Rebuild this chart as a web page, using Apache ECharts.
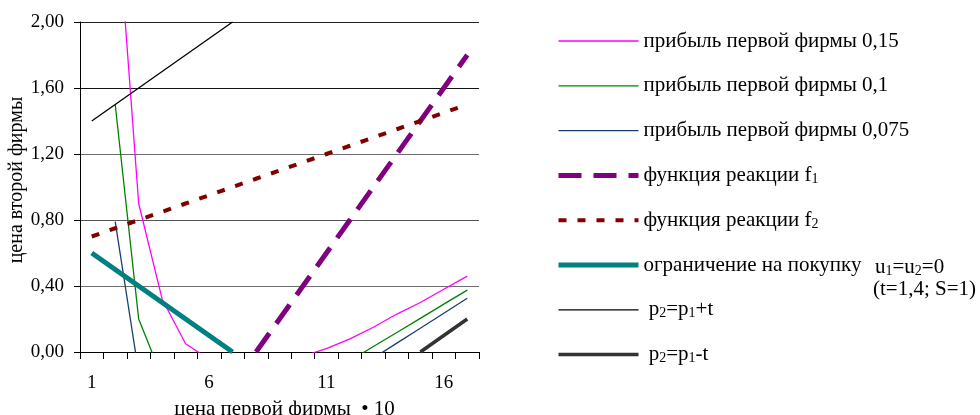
<!DOCTYPE html>
<html>
<head>
<meta charset="utf-8">
<script src="https://cdn.jsdelivr.net/npm/echarts@6/dist/echarts.min.js"></script>
<style>
  html, body { margin: 0; padding: 0; background: #fff; }
  #chart { width: 980px; height: 415px; }
</style>
</head>
<body>
<div id="chart"></div>
<script>
// Price of the first firm (x10), category axis
const categories = ['1','2','3','4','5','6','7','8','9','10','11','12','13','14','15','16','17'];

// Isoprofit curves of the first firm (levels 0.15, 0.1, 0.075)
const profit015  = [null, 2.82, 0.90, 0.32, 0.05, -0.044, null, null, null, -0.025, 0.02, 0.08, 0.15, 0.23, 0.30, 0.38, 0.46];
const profit010  = [null, 1.50, 0.20, -0.155, null, null, null, null, null, null, null, -0.053, 0.033, 0.118, 0.204, 0.29, 0.375];
const profit0075 = [null, 0.79, -0.125, null, null, null, null, null, null, null, null, null, -0.037, 0.054, 0.144, 0.235, 0.326];

// Reaction functions
const reactionF1 = [null, null, null, null, null, null, null, 0, 0.2, 0.4, 0.6, 0.8, 1.0, 1.2, 1.4, 1.6, 1.8];
const reactionF2 = [0.70, 0.75, 0.80, 0.85, 0.90, 0.95, 1.00, 1.05, 1.10, 1.15, 1.20, 1.25, 1.30, 1.35, 1.40, 1.45, 1.50];

// Purchase constraint and the boundary lines p2 = p1 ± t
const purchaseLimit = [0.6, 0.5, 0.4, 0.3, 0.2, 0.1, 0, null, null, null, null, null, null, null, null, null, null];
const linePlusT  = [1.4, 1.5, 1.6, 1.7, 1.8, 1.9, 2.0, null, null, null, null, null, null, null, null, null, null];
const lineMinusT = [null, null, null, null, null, null, null, null, null, null, null, null, null, null, 0, 0.1, 0.2];

// Y axis tick values
const yTicks = [0, 0.4, 0.8, 1.2, 1.6, 2.0];

const FONT = 'Liberation Serif';

const legendLabels = {
  'p015': 'прибыль первой фирмы 0,15',
  'p010': 'прибыль первой фирмы 0,1',
  'p0075': 'прибыль первой фирмы 0,075',
  'f1': 'функция реакции f{sub|1}',
  'f2': 'функция реакции f{sub|2}',
  'lim': 'ограничение на покупку',
  'plus': ' p{sub|2}=p{sub|1}+t',
  'minus': ' p{sub|2}=p{sub|1}-t'
};

const subStyle = { fontFamily: FONT, fontSize: 14, verticalAlign: 'bottom', lineHeight: 22, padding: [0, 0, 0, 0] };

// name, values, colour, width, dash, z
const seriesDefs = [
  ['p015', profit015, '#ff00ff', 1.3, 'solid', 2],
  ['p010', profit010, '#008000', 1.3, 'solid', 2],
  ['p0075', profit0075, '#1a3f6f', 1.3, 'solid', 2],
  ['f1', reactionF1, '#800080', 5, [23, 12], 3],
  ['f2', reactionF2, '#800000', 4, [8, 11], 3],
  ['lim', purchaseLimit, '#008080', 5, 'solid', 4],
  ['plus', linePlusT, '#000000', 1.3, 'solid', 4],
  ['minus', lineMinusT, '#333333', 3.5, 'solid', 4]
];

function lineSeries(d) {
  return {
    name: d[0],
    type: 'line',
    data: d[1],
    symbol: 'none',
    showSymbol: false,
    connectNulls: false,
    clip: true,
    z: d[5],
    lineStyle: { color: d[2], width: d[3], type: d[4], cap: 'butt' },
    itemStyle: { color: d[2] },
    emphasis: { disabled: true },
    animation: false
  };
}

const chart = echarts.init(document.getElementById('chart'), null, { renderer: 'canvas' });

chart.setOption({
  backgroundColor: '#ffffff',
  animation: false,
  textStyle: { fontFamily: FONT, color: '#000' },
  grid: { left: 80, right: 501, top: 22, bottom: 63, containLabel: false, outerBoundsMode: 'none' },
  xAxis: {
    type: 'category',
    data: categories,
    boundaryGap: true,
    name: 'цена первой фирмы  • 10',
    nameLocation: 'middle',
    nameGap: 47,
    nameTextStyle: { fontFamily: FONT, fontSize: 21, color: '#000', padding: [0, 0, 0, 10] },
    axisLine: { lineStyle: { color: '#000', width: 1 } },
    axisTick: { show: true, interval: 0, length: 7, lineStyle: { color: '#000' } },
    axisLabel: { interval: 4, fontFamily: FONT, fontSize: 19, color: '#000', margin: 22 },
    splitLine: { show: false }
  },
  yAxis: {
    type: 'value',
    min: yTicks[0],
    max: yTicks[yTicks.length - 1],
    interval: 0.4,
    name: 'цена второй фирмы',
    nameLocation: 'middle',
    nameGap: 52,
    nameTextStyle: { fontFamily: FONT, fontSize: 20, color: '#000', padding: [0, 0, 0, 14] },
    axisLine: { show: true, lineStyle: { color: '#000', width: 1 } },
    axisTick: { show: true, length: 6, lineStyle: { color: '#000' } },
    axisLabel: {
      fontFamily: FONT, fontSize: 19, color: '#000', margin: 16,
      formatter: v => v.toFixed(2).replace('.', ',')
    },
    splitLine: { show: true, lineStyle: { color: ['#000', '#6e6e6e', '#555', '#6e6e6e', '#111', '#222'], width: 1 } }
  },
  legend: {
    orient: 'vertical',
    left: 551,
    top: 25,
    itemWidth: 80,
    itemHeight: 14,
    itemGap: 22.8,
    selectedMode: false,
    itemStyle: { color: 'rgba(0,0,0,0)', opacity: 0, borderWidth: 0 },
    formatter: name => legendLabels[name],
    textStyle: {
      fontFamily: FONT, fontSize: 21, color: '#000', lineHeight: 22,
      rich: { sub: subStyle }
    },
    data: seriesDefs.map(d => ({
      name: d[0],
      lineStyle: { width: d[3], type: d[4], color: d[2], cap: 'butt' }
    }))
  },
  graphic: [
    {
      type: 'text',
      left: 875,
      top: 256,
      style: {
        text: 'u{sub|1}=u{sub|2}=0',
        fontFamily: FONT,
        fontSize: 21,
        lineHeight: 22,
        fill: '#000',
        rich: { sub: subStyle }
      }
    },
    {
      type: 'text',
      left: 873,
      top: 279,
      style: { text: '(t=1,4; S=1)', fontFamily: FONT, fontSize: 21, fill: '#000' }
    }
  ],
  series: seriesDefs.map(lineSeries)
});
</script>
</body>
</html>
